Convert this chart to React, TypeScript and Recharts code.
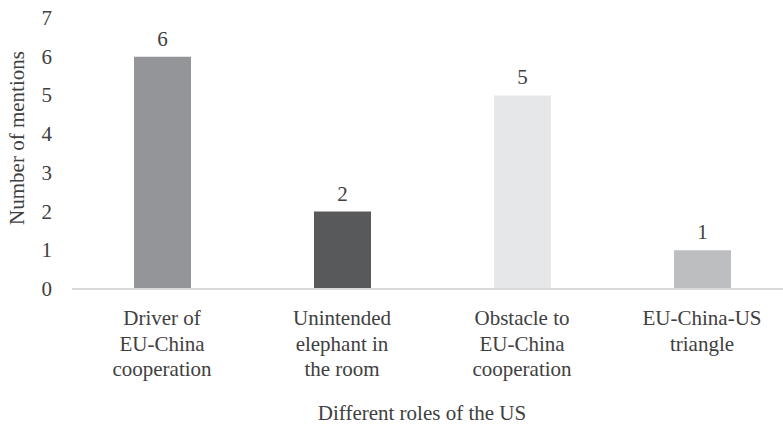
import { BarChart, Bar, XAxis, YAxis, Cell, LabelList, Label } from 'recharts'

const categories = [
  'Driver of\nEU-China\ncooperation',
  'Unintended\nelephant in\nthe room',
  'Obstacle to\nEU-China\ncooperation',
  'EU-China-US\ntriangle',
]
const mentions = [6, 2, 5, 1]
const barColors = ['#939598', '#58595b', '#e6e7e8', '#bcbec0']
const yTicks = [0, 1, 2, 3, 4, 5, 6, 7]

const data = categories.map((name, i) => ({ name, value: mentions[i] }))

const FONT = 'Liberation Serif'
const TEXT = '#404040'

const CategoryTick = ({ x, y, payload }: any) => {
  const lines = String(payload.value).split('\n')
  return (
    <g>
      {lines.map((line, i) => (
        <text
          key={i}
          x={x}
          y={y + 28 + i * 25.5}
          textAnchor="middle"
          fill={TEXT}
          fontFamily={FONT}
          fontSize={21}
        >
          {line}
        </text>
      ))}
    </g>
  )
}

const ValueLabel = ({ x, y, width, value }: any) => (
  <text x={x + width / 2} y={y - 11} textAnchor="middle" fill={TEXT} fontFamily={FONT} fontSize={21}>
    {value}
  </text>
)

const YTick = ({ x, y, payload }: any) => (
  <text x={x} y={y} dy={7} textAnchor="end" fill={TEXT} fontFamily={FONT} fontSize={21}>
    {payload.value}
  </text>
)

export default function App() {
  return (
    <div
      style={{
        position: 'absolute',
        left: 0,
        top: 0,
        width: 783,
        height: 426,
        overflow: 'hidden',
        background: '#fff',
        fontFamily: FONT,
      }}
    >
      <BarChart
        width={800}
        height={426}
        data={data}
        margin={{ top: 18, right: 8, bottom: 0, left: 0 }}
        style={{ fontFamily: FONT }}
      >
        <XAxis
          dataKey="name"
          height={137}
          axisLine={{ stroke: '#d9d9d9', strokeWidth: 2 }}
          tickLine={false}
          tick={<CategoryTick />}
          interval={0}
        >
          <Label
            content={({ viewBox }: any) => (
              <text
                x={viewBox.x + viewBox.width / 2 - 10}
                y={420}
                textAnchor="middle"
                fill={TEXT}
                fontFamily={FONT}
                fontSize={21}
              >
                Different roles of the US
              </text>
            )}
          />
        </XAxis>
        <YAxis
          width={72}
          domain={[0, 7]}
          ticks={yTicks}
          interval={0}
          axisLine={false}
          tickLine={false}
          tickSize={0}
          tickMargin={20}
          tick={<YTick />}
        >
          <Label
            content={() => (
              <text
                x={17}
                y={138}
                transform="rotate(-90 17 138)"
                textAnchor="middle"
                dominantBaseline="central"
                fill={TEXT}
                fontFamily={FONT}
                fontSize={21}
              >
                Number of mentions
              </text>
            )}
          />
        </YAxis>
        <Bar dataKey="value" barSize={57} isAnimationActive={false}>
          {data.map((entry, index) => (
            <Cell key={`cell-${index}`} fill={barColors[index]} />
          ))}
          <LabelList dataKey="value" content={<ValueLabel />} />
        </Bar>
      </BarChart>
    </div>
  )
}
